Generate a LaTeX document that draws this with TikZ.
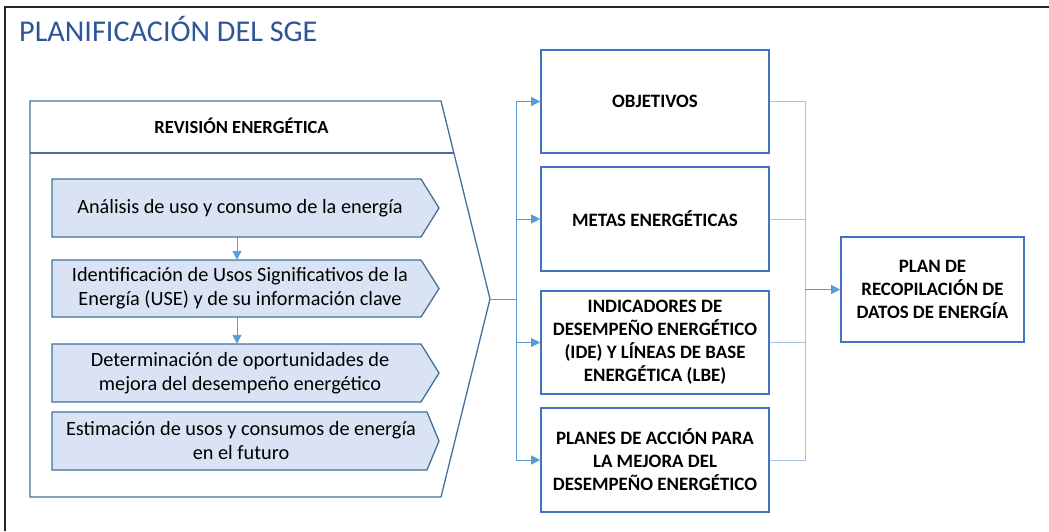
\documentclass[tikz,border=0pt]{standalone}
\usepackage{fontspec}
\setmainfont{Carlito}
\usetikzlibrary{arrows.meta,calc}
\definecolor{frameblk}{HTML}{262626}
\definecolor{titleblue}{HTML}{2F5597}
\definecolor{outl}{HTML}{41719C}
\definecolor{chevfill}{HTML}{DAE3F3}
\definecolor{boxblue}{HTML}{4472C4}
\definecolor{connblue}{HTML}{5B9BD5}
\definecolor{lightconn}{HTML}{9DC3E6}
\begin{document}
\begin{tikzpicture}[x=1pt,y=-1pt,
 chevshape/.style={draw=outl,fill=chevfill,line width=1.3pt,line join=miter},
 chevtext/.style={minimum width=376pt,minimum height=57pt,inner sep=0pt,align=center,font=\fontsize{20.3}{24}\selectfont},
 goalbox/.style={draw=boxblue,line width=1.6pt,minimum width=228pt,minimum height=103pt,inner sep=2pt,align=center,font=\fontsize{18.9}{23}\selectfont\bfseries},
 arr/.style={draw=connblue,line width=0.9pt,-{Triangle[length=9pt,width=9pt,fill=connblue]}},
 conn/.style={draw=connblue,line width=0.9pt},
 lconn/.style={draw=lightconn,line width=1pt},
]
\useasboundingbox (0,0) rectangle (1049,531);
% frame
\draw[frameblk,line width=1.5pt] (5,531) -- (5,7) -- (1049,7);
% title
\node[anchor=base west,text=titleblue,font=\fontsize{30.2}{34}\selectfont,inner sep=0pt] (title) at (19,41) {PLANIFICACIÓN DEL SGE};
% pentagon
\draw[outl,line width=1.3pt,line join=miter] (30,101) -- (441,101) -- (490,299) -- (441,497) -- (30,497) -- cycle;
\draw[outl,line width=1.3pt] (30,153) -- (454,153);
\node[font=\fontsize{18.5}{22}\selectfont\bfseries,anchor=base,inner sep=0pt] (rev) at (241.5,133) {REVISIÓN ENERGÉTICA};
\coordinate (tip) at (490,299);
% chevrons
\draw[chevshape] (52,179) -- (421,179) -- (439,208) -- (421,237) -- (52,237) -- cycle;
\draw[chevshape] (52,260) -- (421,260) -- (439,288.5) -- (421,317) -- (52,317) -- cycle;
\draw[chevshape] (52,344) -- (421,344) -- (439,373) -- (421,402) -- (52,402) -- cycle;
\draw[chevshape] (52,412) -- (427,412) -- (439,441) -- (427,470) -- (52,470) -- cycle;
\node[chevtext,minimum height=58pt] (b1) at (240,208) {Análisis de uso y consumo de la energía};
\node[chevtext] (b2) at (240,288.5) {Identificación de Usos Significativos de la\\Energía (USE) y de su información clave};
\node[chevtext,minimum height=58pt] (b3) at (240,373) {Determinación de oportunidades de\\mejora del desempeño energético};
\node[chevtext,minimum height=58pt] (b4) at (241,441) {Estimación de usos y consumos de energía\\en el futuro};
\draw[arr] ([xshift=-3pt]b1.south) -- ([xshift=-3pt]b2.north);
\draw[arr] ([xshift=-3pt]b2.south) -- ([xshift=-3pt]b3.north);
% goal boxes
\node[goalbox] (obj) at (655,101.5) {OBJETIVOS};
\node[goalbox,minimum height=104pt] (met) at (655,219) {METAS ENERGÉTICAS};
\node[goalbox] (ind) at (655,342.5) {INDICADORES DE\\DESEMPEÑO ENERGÉTICO\\(IDE) Y LÍNEAS DE BASE\\ENERGÉTICA (LBE)};
\node[goalbox,minimum height=104pt] (pla) at (655,460) {PLANES DE ACCIÓN PARA\\LA MEJORA DEL\\DESEMPEÑO ENERGÉTICO};
\node[goalbox,minimum width=183pt,minimum height=105pt] (plan) at (932.5,289.5) {PLAN DE\\RECOPILACIÓN DE\\DATOS DE ENERGÍA};
% left connectors
\coordinate (bus) at (516,299);
\draw[conn] (tip) -- (bus);
\draw[arr] (bus) |- (obj.west);
\draw[arr] (bus) |- (met.west);
\draw[arr] (bus) |- (ind.west);
\draw[arr] (bus) |- (pla.west);
% right connectors
\coordinate (rbus) at (805,289.5);
\draw[lconn] (obj.east) -| (rbus);
\draw[lconn] (met.east) -| (rbus);
\draw[lconn] (ind.east) -| (rbus);
\draw[lconn] (pla.east) -| (rbus);
\draw[arr] (rbus) -- (plan.west);
\end{tikzpicture}
\end{document}
